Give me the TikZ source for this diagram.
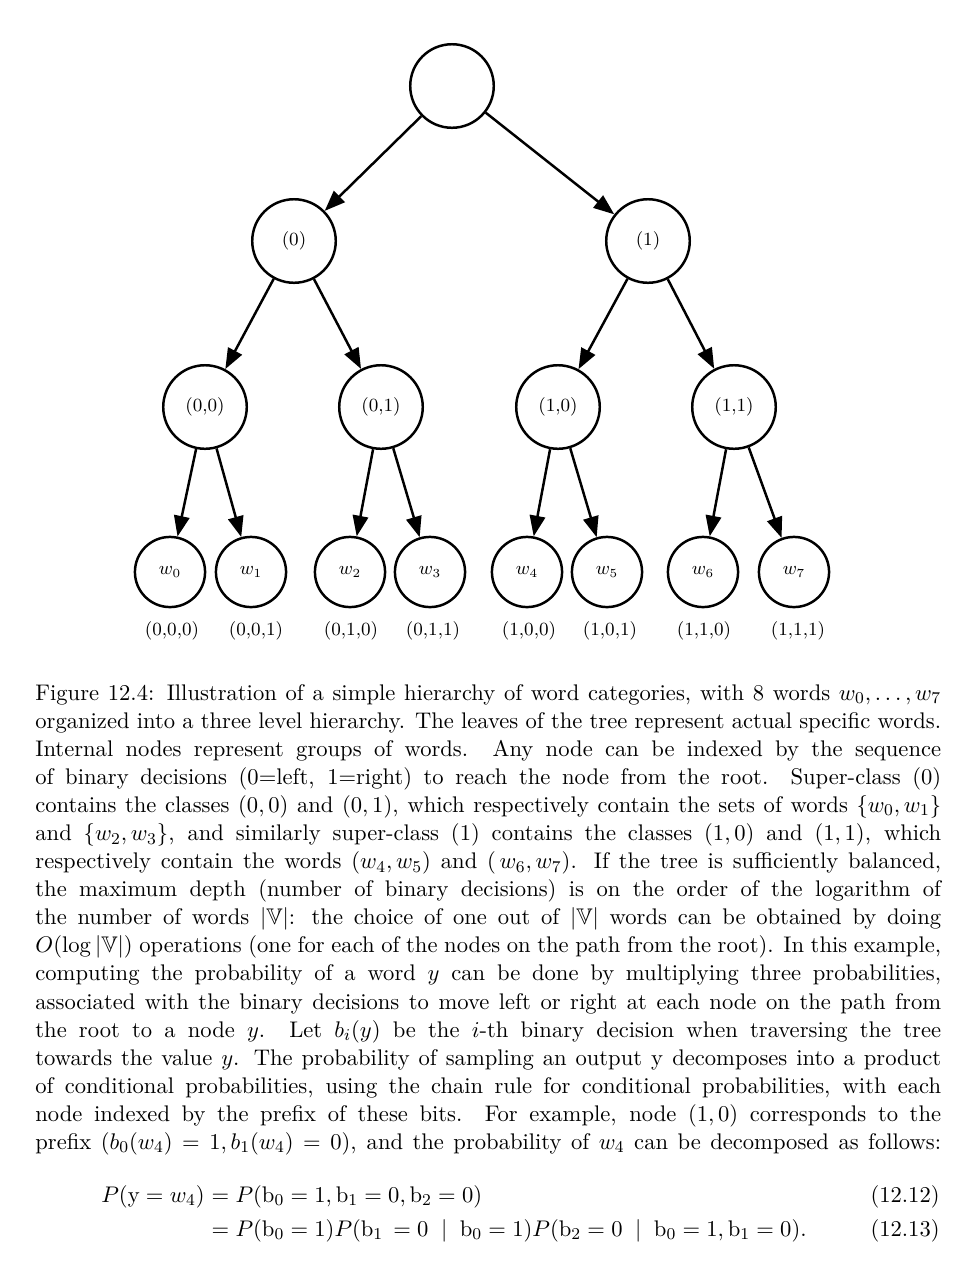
\documentclass[tikz,border=0pt]{standalone}
\usepackage{amsmath,amssymb}
\usetikzlibrary{arrows.meta}
\newcommand{\capline}[1]{\hbox to 439pt{#1}}

\begin{document}
\begin{tikzpicture}[x=0.4847pt,y=-0.4847pt,>={Triangle[length=10pt,width=7.5pt]},
  inner/.style={circle,draw,line width=1.2pt,minimum size=40.5pt,inner sep=0pt,font=\fontsize{9}{10}\selectfont},
  leaf/.style={circle,draw,line width=1.2pt,minimum size=34pt,inner sep=0pt,font=\fontsize{9}{10}\selectfont},
  code/.style={inner sep=0pt,font=\fontsize{9}{10}\selectfont},
  branch/.style={->,line width=1.2pt},
  body/.style={inner sep=0pt,font=\fontsize{10.95}{13.6}\selectfont}]
  \useasboundingbox (0,0) rectangle (962,1264);

  \node[inner] (root) at (452,86) {};
  \node[inner] (c0) at (294,241) {(0)};
  \node[inner] (c1) at (648,241) {(1)};
  \node[inner] (c00) at (205,407) {(0,0)};
  \node[inner] (c01) at (381,407) {(0,1)};
  \node[inner] (c10) at (558,407) {(1,0)};
  \node[inner] (c11) at (734,407) {(1,1)};

  \foreach \i/\x/\lx/\lab in {0/170/172/{(0,0,0)},1/251/256/{(0,0,1)},2/350/351/{(0,1,0)},3/430/433/{(0,1,1)},
                              4/527/529/{(1,0,0)},5/607/610/{(1,0,1)},6/703/704/{(1,1,0)},7/794/798/{(1,1,1)}} {
    \node[leaf] (w\i) at (\x,572) {$w_{\i}$};
    \node[code] (b\i) at (\lx,631) {\lab};
  }

  \foreach \a/\b in {root/c0,root/c1,c0/c00,c0/c01,c1/c10,c1/c11,
                     c00/w0,c00/w1,c01/w2,c01/w3,c10/w4,c10/w5,c11/w6,c11/w7}
    \draw[branch] (\a) -- (\b);

  \node[body,anchor=north west] (caption) at (35,684) {\vbox{%
    \capline{Figure 12.4: Illustration of a simple hierarchy of word categories, with 8 words $w_0, \ldots, w_7$}
    \capline{organized into a three level hierarchy. The leaves of the tree represent actual specific words.}
    \capline{Internal nodes represent groups of words. Any node can be indexed by the sequence}
    \capline{of binary decisions (0=left, 1=right) to reach the node from the root. Super-class (0)}
    \capline{contains the classes $(0,0)$ and $(0,1)$, which respectively contain the sets of words $\{w_0, w_1\}$}
    \capline{and $\{w_2, w_3\}$, and similarly super-class $(1)$ contains the classes $(1,0)$ and $(1,1)$, which}
    \capline{respectively contain the words $(w_4, w_5)$ and $(\,w_6, w_7)$. If the tree is sufficiently balanced,}
    \capline{the maximum depth (number of binary decisions) is on the order of the logarithm of}
    \capline{the number of words $|\mathbb{V}|$: the choice of one out of $|\mathbb{V}|$ words can be obtained by doing}
    \capline{$O(\log|\mathbb{V}|)$ operations (one for each of the nodes on the path from the root). In this example,}
    \capline{computing the probability of a word $y$ can be done by multiplying three probabilities,}
    \capline{associated with the binary decisions to move left or right at each node on the path from}
    \capline{the root to a node $y$. Let $b_i(y)$ be the $i$-th binary decision when traversing the tree}
    \capline{towards the value $y$. The probability of sampling an output $\mathrm{y}$ decomposes into a product}
    \capline{of conditional probabilities, using the chain rule for conditional probabilities, with each}
    \capline{node indexed by the prefix of these bits. For example, node $(1,0)$ corresponds to the}
    \capline{prefix $(b_0(w_4) = 1, b_1(w_4) = 0)$, and the probability of $w_4$ can be decomposed as follows:}}};

  \node[body,anchor=base east] (lhs) at (205,1202) {$P(\mathrm{y} = w_4)$};
  \node[body,anchor=base west] (rhsa) at (205,1202) {${}= P(\mathrm{b}_0 = 1, \mathrm{b}_1 = 0, \mathrm{b}_2 = 0)$};
  \node[body,anchor=base west] (rhsb) at (205,1236) {${}= P(\mathrm{b}_0 = 1)P(\mathrm{b}_1\, = 0 \;\mid\; \mathrm{b}_0 = 1)P(\mathrm{b}_2 = 0 \;\mid\; \mathrm{b}_0 = 1, \mathrm{b}_1 = 0).$};
  \node[body,anchor=base east] (numa) at (940,1202) {(12.12)};
  \node[body,anchor=base east] (numb) at (940,1236) {(12.13)};
\end{tikzpicture}
\end{document}
